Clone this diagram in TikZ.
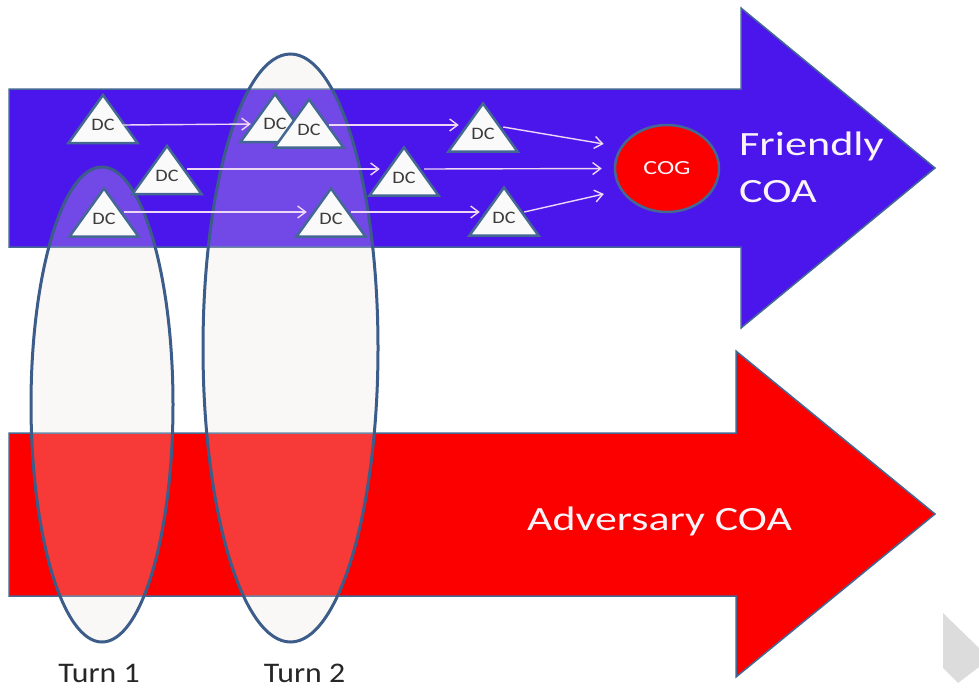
\documentclass[tikz,border=0pt]{standalone}
\usepackage{fontspec}
\setmainfont{Carlito}
\usetikzlibrary{arrows.meta,shapes.geometric}

\definecolor{friendblue}{RGB}{75,22,235}
\definecolor{advred}{RGB}{252,0,0}
\definecolor{edgeblue}{RGB}{68,104,148}
\definecolor{ringblue}{RGB}{60,92,138}
\definecolor{haze}{RGB}{233,229,223}
\definecolor{linkpink}{RGB}{238,214,245}
\definecolor{dcgrey}{RGB}{60,60,60}
\definecolor{navgrey}{RGB}{220,220,220}
\definecolor{labelwhite}{RGB}{250,244,250}

% horizontally widened text
\newcommand\hstretch[2]{\scalebox{#1}[1]{#2}}

\begin{document}
\begin{tikzpicture}[x=1pt,y=1pt,
  coa/.style={draw=edgeblue, line width=1.5pt, line join=miter},
  turnring/.style={draw=ringblue, line width=3pt, fill=haze, fill opacity=0.25},
  link/.style={draw=linkpink, line width=1.4pt, -{Straight Barb[length=8pt,width=12pt]}},
  dclabel/.style={inner sep=0pt, minimum width=40pt, minimum height=12pt,
                  text=dcgrey, font=\fontsize{17.5}{17.5}\selectfont},
  dc/.pic={
    \filldraw[fill=black!2, draw=edgeblue, line width=2.5pt, line join=miter]
      (-34.5,-18) -- (0,30) -- (34.5,-18) -- cycle;
    \node[dclabel] (-dc) at (0,0) {\hstretch{1.15}{DC}};
  },
  biglabel/.style={text=labelwhite, inner sep=0pt, font=\fontsize{34}{40}\selectfont},
  turnlabel/.style={text=black!85, inner sep=0pt, font=\fontsize{28.4}{30}\selectfont}
]
\useasboundingbox (0,0) rectangle (979,-689);

% the two courses of action
\filldraw[coa, fill=friendblue]
  (9,-89) -- (741,-89) -- (741,-8) -- (935,-168) -- (741,-328) -- (741,-247) -- (9,-247) -- cycle;
\filldraw[coa, fill=advred]
  (9,-433) -- (736,-433) -- (736,-351) -- (935,-514) -- (736,-677) -- (736,-596) -- (9,-596) -- cycle;

% turn rings
\node[turnring, ellipse, minimum width=142pt, minimum height=475pt, inner sep=0pt] (turn1ring) at (102,-404.5) {};
\node[turnring, ellipse, minimum width=175pt, minimum height=588pt, inner sep=0pt] (turn2ring) at (290.5,-348) {};

% decisive points
\pic (t1) at (103,-125) {dc};
\pic (t2) at (167,-176) {dc};
\pic (t3) at (104,-218.5) {dc};
\pic (t4) at (275,-124) {dc};
\pic (t5) at (309,-129.5) {dc};
\pic (t6) at (404,-177.5) {dc};
\pic (t7) at (331,-218.5) {dc};
\pic (t8) at (483,-133.5) {dc};
\pic (t9) at (504,-217.5) {dc};

% centre of gravity
\node[ellipse, draw=edgeblue, line width=2.5pt, fill=advred, minimum width=104pt, minimum height=87pt,
      inner sep=0pt, text=labelwhite, font=\fontsize{20}{20}\selectfont] (cog) at (667,-168.5) {\hstretch{1.3}{COG}};

% lines of effort
\draw[link, shorten >=4pt] (t1-dc.east) -- (t4-dc.west);
\draw[link, shorten >=4pt] ([yshift=7pt]t2-dc.east) -- ([yshift=8.5pt]t6-dc.west);
\draw[link, shorten >=4pt] ([yshift=6.5pt]t3-dc.east) -- ([yshift=6.5pt]t7-dc.west);
\draw[link, shorten >=4pt] ([yshift=4.5pt]t5-dc.east) -- ([yshift=8.5pt]t8-dc.west);
\draw[link, shorten >=12pt] ([yshift=8.5pt]t6-dc.east) -- (cog.west);
\draw[link, shorten >=4pt] ([yshift=6.5pt]t7-dc.east) -- ([yshift=5.5pt]t9-dc.west);
\draw[link, shorten >=17pt] ([yshift=6.5pt]t8-dc.east) -- (cog.155);
\draw[link, shorten >=17pt] ([yshift=5.5pt]t9-dc.east) -- (cog.205);

% labels
\node[biglabel, anchor=base west] (friendly1) at (739,-155) {\hstretch{1.3}{Friendly}};
\node[biglabel, anchor=base west] (friendly2) at (739,-202) {\hstretch{1.3}{COA}};
\node[biglabel, anchor=base] (adversary) at (659.5,-530) {\hstretch{1.29}{Adversary COA}};
\node[turnlabel, anchor=base] (turn1) at (99,-682) {\hstretch{1.12}{Turn 1}};
\node[turnlabel, anchor=base] (turn2) at (304.5,-682) {\hstretch{1.12}{Turn 2}};

% next-page marker
\fill[navgrey] (943,-613) -- (979,-648) -- (979,-667) -- (958,-683) -- (943,-668) -- cycle;
\end{tikzpicture}
\end{document}
